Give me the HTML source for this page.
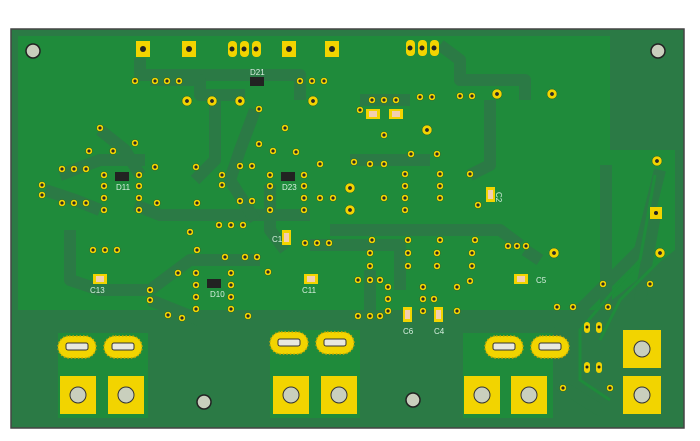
<!DOCTYPE html>
<html><head><style>body{margin:0;background:#fff}svg{display:block}</style></head><body>
<svg width="700" height="441" viewBox="0 0 700 441" xmlns="http://www.w3.org/2000/svg" font-family="Liberation Sans, sans-serif">
<defs>
<radialGradient id="via" cx="50%" cy="50%" r="50%"><stop offset="0" stop-color="#2a2a2a"/><stop offset="0.42" stop-color="#2a2a2a"/><stop offset="0.45" stop-color="#f2d400"/><stop offset="1" stop-color="#f2d400"/></radialGradient>
<radialGradient id="viab" cx="50%" cy="50%" r="50%"><stop offset="0" stop-color="#2a2a2a"/><stop offset="0.35" stop-color="#2a2a2a"/><stop offset="0.4" stop-color="#f2d400"/><stop offset="1" stop-color="#f2d400"/></radialGradient>
</defs>
<rect x="11" y="29" width="673" height="399" fill="#2b7a45" stroke="#444" stroke-width="1.5"/>
<path d="M18 36 H610 V150 H640 V165 H600 V310 H18 Z" fill="#1f8b3b"/>
<path d="M450 36 H610 V85 H450 Z" fill="#1f8b3b"/>
<rect x="612" y="36" width="66" height="115" fill="#2b7a45"/>
<path d="M612 150 L675 150 L675 250 L612 300 Z" fill="#1f8b3b"/>
<rect x="58" y="333" width="90" height="85" fill="#1f8b3b"/>
<rect x="270" y="330" width="90" height="88" fill="#1f8b3b"/>
<rect x="463" y="333" width="90" height="85" fill="#1f8b3b"/>
<g fill="none" stroke="#2b7a45" stroke-width="12" stroke-linejoin="round">
<path d="M140 58 V75 H300 V100"/>
<path d="M150 80 H200 V95 H245"/>
<path d="M215 100 V160 L195 180"/>
<path d="M100 130 L125 150 L140 175"/>
<path d="M60 175 L100 160 H145"/>
<path d="M45 190 L75 200 L100 210"/>
<path d="M70 230 V280 L100 290 H150"/>
<path d="M135 205 L160 215 H310"/>
<path d="M255 110 L240 150 L230 180 L255 220"/>
<path d="M270 185 V230 L285 250"/>
<path d="M310 245 H400 V290"/>
<path d="M330 230 H500 L520 245"/>
<path d="M440 45 L460 60 V80 H525 V100"/>
<path d="M490 100 V165 L470 175"/>
<path d="M360 100 H410"/>
<path d="M350 160 H430"/>
<path d="M150 290 L190 260 H260"/>
<path d="M150 300 L200 320 H300"/>
<path d="M370 270 V320 H440"/>
<path d="M660 170 L640 250 L600 290 L560 330 V385 L600 410 H670"/>
<path d="M655 215 L640 300 V330"/>
<path d="M525 250 L540 260"/>
</g>
<g fill="none" stroke="#1f8b3b" stroke-width="3">
<path d="M655 175 L640 260 L580 330 V380 L610 400"/>
<path d="M665 255 L620 300 L600 340"/>
</g>
<g fill="#c9cfbd" stroke="#222" stroke-width="1.5">
<circle cx="33" cy="51" r="7"/><circle cx="658" cy="51" r="7"/>
<circle cx="204" cy="402" r="7"/><circle cx="413" cy="400" r="7"/>
</g>
<g fill="#f2d400">
<rect x="60" y="376" width="36" height="38"/><rect x="108" y="376" width="36" height="38"/>
<rect x="273" y="376" width="36" height="38"/><rect x="321" y="376" width="36" height="38"/>
<rect x="464" y="376" width="36" height="38"/><rect x="511" y="376" width="36" height="38"/>
<rect x="623" y="330" width="38" height="38"/><rect x="623" y="376" width="38" height="38"/>
</g>
<g fill="#c9cfbd" stroke="#333" stroke-width="1">
<circle cx="78" cy="395" r="8"/><circle cx="126" cy="395" r="8"/>
<circle cx="291" cy="395" r="8"/><circle cx="339" cy="395" r="8"/>
<circle cx="482" cy="395" r="8"/><circle cx="529" cy="395" r="8"/>
<circle cx="642" cy="349" r="8"/><circle cx="642" cy="395" r="8"/>
</g>
<g>
<g fill="#f2d400" stroke="#caa800" stroke-dasharray="1.5 2" stroke-width="1.5">
<rect x="58" y="336" width="38" height="22" rx="11"/><rect x="104" y="336" width="38" height="22" rx="11"/>
<rect x="270" y="332" width="38" height="22" rx="11"/><rect x="316" y="332" width="38" height="22" rx="11"/>
<rect x="485" y="336" width="38" height="22" rx="11"/><rect x="531" y="336" width="38" height="22" rx="11"/>
</g>
<g fill="#e8e8e0" stroke="#333">
<rect x="66" y="343" width="22" height="7" rx="2"/><rect x="112" y="343" width="22" height="7" rx="2"/>
<rect x="278" y="339" width="22" height="7" rx="2"/><rect x="324" y="339" width="22" height="7" rx="2"/>
<rect x="493" y="343" width="22" height="7" rx="2"/><rect x="539" y="343" width="22" height="7" rx="2"/>
</g></g>
<g fill="#f2d400"><rect x="136" y="41" width="14" height="16"/><rect x="182" y="41" width="14" height="16"/>
<rect x="282" y="41" width="14" height="16"/><rect x="325" y="41" width="14" height="16"/>
<rect x="228" y="41" width="9" height="16" rx="4"/><rect x="240" y="41" width="9" height="16" rx="4"/><rect x="252" y="41" width="9" height="16" rx="4"/>
<rect x="406" y="40" width="9" height="16" rx="4"/><rect x="418" y="40" width="9" height="16" rx="4"/><rect x="430" y="40" width="9" height="16" rx="4"/>
<rect x="650" y="207" width="12" height="12"/>
</g>
<g fill="#222"><circle cx="143" cy="49" r="3"/><circle cx="189" cy="49" r="3"/><circle cx="289" cy="49" r="3"/><circle cx="332" cy="49" r="3"/>
<circle cx="232" cy="49" r="2.5"/><circle cx="244" cy="49" r="2.5"/><circle cx="256" cy="49" r="2.5"/>
<circle cx="410" cy="48" r="2.5"/><circle cx="422" cy="48" r="2.5"/><circle cx="434" cy="48" r="2.5"/><circle cx="656" cy="213" r="2"/></g>
<g fill="url(#viab)" stroke="#1a5a2a" stroke-width="0.5">
<circle cx="187" cy="101" r="5"/><circle cx="212" cy="101" r="5"/><circle cx="240" cy="101" r="5"/><circle cx="313" cy="101" r="5"/>
<circle cx="497" cy="94" r="5"/><circle cx="552" cy="94" r="5"/><circle cx="657" cy="161" r="5"/>
<circle cx="427" cy="130" r="5"/><circle cx="350" cy="188" r="5"/><circle cx="350" cy="210" r="5"/>
<circle cx="554" cy="253" r="5"/><circle cx="660" cy="253" r="5"/>
</g>
<g fill="url(#via)" stroke="#1a5a2a" stroke-width="0.5">
<circle cx="135" cy="81" r="3.5"/><circle cx="155" cy="81" r="3.5"/><circle cx="167" cy="81" r="3.5"/><circle cx="179" cy="81" r="3.5"/>
<circle cx="300" cy="81" r="3.5"/><circle cx="312" cy="81" r="3.5"/><circle cx="324" cy="81" r="3.5"/><circle cx="259" cy="109" r="3.5"/>
<circle cx="100" cy="128" r="3.5"/><circle cx="135" cy="143" r="3.5"/><circle cx="113" cy="151" r="3.5"/>
<circle cx="89" cy="151" r="3.5"/><circle cx="62" cy="169" r="3.5"/><circle cx="74" cy="169" r="3.5"/><circle cx="86" cy="169" r="3.5"/>
<circle cx="42" cy="185" r="3.5"/><circle cx="42" cy="195" r="3.5"/><circle cx="62" cy="203" r="3.5"/><circle cx="74" cy="203" r="3.5"/><circle cx="86" cy="203" r="3.5"/>
<circle cx="104" cy="175" r="3.5"/><circle cx="104" cy="186" r="3.5"/><circle cx="104" cy="198" r="3.5"/><circle cx="104" cy="210" r="3.5"/>
<circle cx="139" cy="175" r="3.5"/><circle cx="139" cy="186" r="3.5"/><circle cx="139" cy="198" r="3.5"/><circle cx="139" cy="210" r="3.5"/>
<circle cx="155" cy="167" r="3.5"/><circle cx="157" cy="203" r="3.5"/><circle cx="196" cy="167" r="3.5"/><circle cx="197" cy="203" r="3.5"/>
<circle cx="285" cy="128" r="3.5"/><circle cx="259" cy="144" r="3.5"/><circle cx="273" cy="151" r="3.5"/><circle cx="296" cy="152" r="3.5"/>
<circle cx="240" cy="166" r="3.5"/><circle cx="252" cy="166" r="3.5"/><circle cx="222" cy="175" r="3.5"/><circle cx="222" cy="185" r="3.5"/>
<circle cx="240" cy="201" r="3.5"/><circle cx="252" cy="201" r="3.5"/><circle cx="320" cy="164" r="3.5"/>
<circle cx="270" cy="175" r="3.5"/><circle cx="270" cy="186" r="3.5"/><circle cx="270" cy="198" r="3.5"/><circle cx="270" cy="210" r="3.5"/>
<circle cx="304" cy="175" r="3.5"/><circle cx="304" cy="186" r="3.5"/><circle cx="304" cy="198" r="3.5"/><circle cx="304" cy="210" r="3.5"/>
<circle cx="320" cy="198" r="3.5"/><circle cx="333" cy="198" r="3.5"/><circle cx="190" cy="232" r="3.5"/><circle cx="219" cy="225" r="3.5"/><circle cx="231" cy="225" r="3.5"/><circle cx="243" cy="225" r="3.5"/>
<circle cx="93" cy="250" r="3.5"/><circle cx="105" cy="250" r="3.5"/><circle cx="117" cy="250" r="3.5"/>
<circle cx="197" cy="250" r="3.5"/><circle cx="225" cy="257" r="3.5"/><circle cx="245" cy="257" r="3.5"/><circle cx="257" cy="257" r="3.5"/><circle cx="268" cy="272" r="3.5"/>
<circle cx="178" cy="273" r="3.5"/><circle cx="196" cy="273" r="3.5"/><circle cx="196" cy="285" r="3.5"/><circle cx="196" cy="297" r="3.5"/><circle cx="196" cy="309" r="3.5"/>
<circle cx="231" cy="273" r="3.5"/><circle cx="231" cy="285" r="3.5"/><circle cx="231" cy="297" r="3.5"/><circle cx="231" cy="309" r="3.5"/>
<circle cx="150" cy="290" r="3.5"/><circle cx="150" cy="300" r="3.5"/><circle cx="168" cy="315" r="3.5"/><circle cx="182" cy="318" r="3.5"/><circle cx="248" cy="316" r="3.5"/>
<circle cx="305" cy="243" r="3.5"/><circle cx="317" cy="243" r="3.5"/><circle cx="329" cy="243" r="3.5"/>
<circle cx="372" cy="100" r="3.5"/><circle cx="384" cy="100" r="3.5"/><circle cx="396" cy="100" r="3.5"/><circle cx="420" cy="97" r="3.5"/><circle cx="432" cy="97" r="3.5"/>
<circle cx="360" cy="110" r="3.5"/><circle cx="460" cy="96" r="3.5"/><circle cx="472" cy="96" r="3.5"/>
<circle cx="384" cy="135" r="3.5"/><circle cx="411" cy="154" r="3.5"/><circle cx="437" cy="154" r="3.5"/><circle cx="354" cy="162" r="3.5"/>
<circle cx="370" cy="164" r="3.5"/><circle cx="384" cy="164" r="3.5"/><circle cx="405" cy="174" r="3.5"/><circle cx="405" cy="186" r="3.5"/><circle cx="405" cy="198" r="3.5"/><circle cx="405" cy="210" r="3.5"/>
<circle cx="440" cy="174" r="3.5"/><circle cx="440" cy="186" r="3.5"/><circle cx="440" cy="198" r="3.5"/><circle cx="384" cy="198" r="3.5"/><circle cx="470" cy="174" r="3.5"/><circle cx="478" cy="205" r="3.5"/>
<circle cx="372" cy="240" r="3.5"/><circle cx="408" cy="240" r="3.5"/><circle cx="440" cy="240" r="3.5"/><circle cx="475" cy="240" r="3.5"/>
<circle cx="370" cy="253" r="3.5"/><circle cx="408" cy="253" r="3.5"/><circle cx="437" cy="253" r="3.5"/><circle cx="472" cy="253" r="3.5"/>
<circle cx="370" cy="266" r="3.5"/><circle cx="408" cy="266" r="3.5"/><circle cx="437" cy="266" r="3.5"/><circle cx="472" cy="266" r="3.5"/>
<circle cx="358" cy="280" r="3.5"/><circle cx="370" cy="280" r="3.5"/><circle cx="380" cy="280" r="3.5"/><circle cx="388" cy="287" r="3.5"/><circle cx="388" cy="299" r="3.5"/><circle cx="388" cy="311" r="3.5"/>
<circle cx="423" cy="287" r="3.5"/><circle cx="423" cy="299" r="3.5"/><circle cx="423" cy="311" r="3.5"/><circle cx="434" cy="299" r="3.5"/><circle cx="457" cy="287" r="3.5"/><circle cx="457" cy="311" r="3.5"/><circle cx="470" cy="281" r="3.5"/>
<circle cx="358" cy="316" r="3.5"/><circle cx="370" cy="316" r="3.5"/><circle cx="380" cy="316" r="3.5"/><circle cx="508" cy="246" r="3.5"/><circle cx="517" cy="246" r="3.5"/><circle cx="526" cy="246" r="3.5"/>
<circle cx="603" cy="284" r="3.5"/><circle cx="650" cy="284" r="3.5"/><circle cx="573" cy="307" r="3.5"/><circle cx="608" cy="307" r="3.5"/><circle cx="557" cy="307" r="3.5"/><circle cx="563" cy="388" r="3.5"/><circle cx="610" cy="388" r="3.5"/>
</g>
<g fill="#f2d400"><rect x="584" y="322" width="6" height="11" rx="3"/><rect x="596" y="322" width="6" height="11" rx="3"/><rect x="584" y="362" width="6" height="11" rx="3"/><rect x="596" y="362" width="6" height="11" rx="3"/></g>
<g fill="#222"><circle cx="587" cy="327" r="1.5"/><circle cx="599" cy="327" r="1.5"/><circle cx="587" cy="367" r="1.5"/><circle cx="599" cy="367" r="1.5"/></g>
<g fill="#222"><rect x="115" y="172" width="14" height="9"/><rect x="250" y="77" width="14" height="9"/><rect x="281" y="172" width="14" height="9"/><rect x="207" y="279" width="14" height="9"/></g>
<g fill="#f2d400"><rect x="93" y="274" width="14" height="10"/><rect x="304" y="274" width="14" height="10"/><rect x="366" y="109" width="14" height="10"/><rect x="389" y="109" width="14" height="10"/><rect x="514" y="274" width="14" height="10"/>
<rect x="282" y="230" width="9" height="15"/><rect x="486" y="187" width="9" height="15"/><rect x="403" y="307" width="9" height="15"/><rect x="434" y="307" width="9" height="15"/></g>
<g fill="#f3cfb0"><rect x="96" y="276" width="8" height="6"/><rect x="307" y="276" width="8" height="6"/><rect x="369" y="111" width="8" height="6"/><rect x="392" y="111" width="8" height="6"/><rect x="517" y="276" width="8" height="6"/>
<rect x="284" y="233" width="5" height="9"/><rect x="488" y="190" width="5" height="9"/><rect x="405" y="310" width="5" height="9"/><rect x="436" y="310" width="5" height="9"/></g>
<g fill="#d8f0e0" font-size="8">
<text x="250" y="75">D21</text><text x="116" y="190">D11</text><text x="282" y="190">D23</text><text x="210" y="297">D10</text>
<text x="90" y="293">C13</text><text x="302" y="293">C11</text><text x="536" y="283">C5</text><text x="403" y="334">C6</text><text x="434" y="334">C4</text>
<text x="272" y="242">C1</text><text x="496" y="192" transform="rotate(90 496 192)">C2</text>
</g>
</svg>
</body></html>
